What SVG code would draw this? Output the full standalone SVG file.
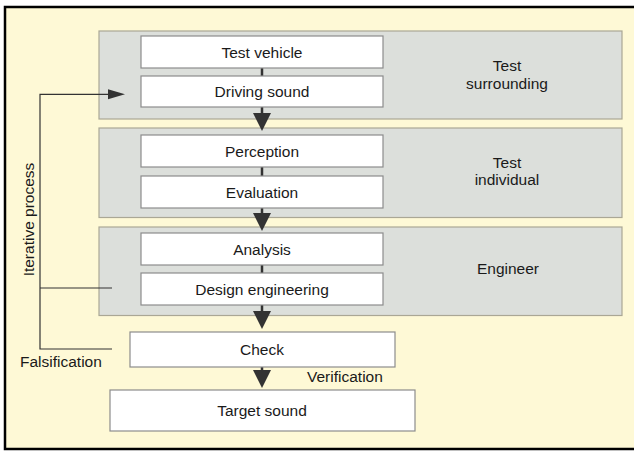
<svg xmlns="http://www.w3.org/2000/svg" width="634" height="458" viewBox="0 0 634 458">
<style>
text{font-family:"Liberation Sans",Arial,sans-serif;font-size:15.5px;fill:#1a1a1a}
.c{text-anchor:middle}
.panel{fill:#dcdfdb;stroke:#aaa795;stroke-width:1.2}
.box{fill:#fff;stroke:#8c8c8c;stroke-width:1.2}
.stem{stroke:#333;stroke-width:2.5;fill:none}
.fb{stroke:#333;stroke-width:1.2;fill:none}
.ah{fill:#333}
.frame{stroke:#000;stroke-width:2.5;fill:none}
</style>
<rect x="0" y="0" width="634" height="458" fill="#fff"/>
<rect x="5" y="7" width="629" height="442" fill="#fef9d6"/>
<path class="frame" d="M634 7H5V449H634"/>

<g id="panel-surrounding">
<rect class="panel" x="99" y="31" width="523" height="88"/>
<text class="c" x="507" y="71">Test</text>
<text class="c" x="507" y="89">surrounding</text>
</g>
<g id="panel-individual">
<rect class="panel" x="99" y="128" width="523" height="89.5"/>
<text class="c" x="507" y="168">Test</text>
<text class="c" x="507" y="185">individual</text>
</g>
<g id="panel-engineer">
<rect class="panel" x="99" y="227" width="523" height="88.5"/>
<text class="c" x="508" y="274">Engineer</text>
</g>

<g id="connectors">
<path class="stem" d="M262 68V76M262 167V176M262 265V273M262 107V114M262 208V214M262 305V312M262 367V371"/>
<polygon class="ah" points="253,113 271,113 262,131"/>
<polygon class="ah" points="253,213 271,213 262,231"/>
<polygon class="ah" points="253,311 271,311 262,329"/>
<polygon class="ah" points="253,370 271,370 262,388"/>
<path class="fb" d="M112 288H40M112 349H40V94.3H110"/>
<polygon class="ah" points="108,89.3 125,94.3 108,99.3"/>
</g>

<g id="node-test-vehicle">
<rect class="box" x="141" y="36" width="242" height="32"/>
<text class="c" x="262" y="57.5">Test vehicle</text>
</g>
<g id="node-driving-sound">
<rect class="box" x="141" y="76" width="242" height="31"/>
<text class="c" x="262" y="97">Driving sound</text>
</g>
<g id="node-perception">
<rect class="box" x="141" y="135" width="242" height="32"/>
<text class="c" x="262" y="156.5">Perception</text>
</g>
<g id="node-evaluation">
<rect class="box" x="141" y="176" width="242" height="32"/>
<text class="c" x="262" y="197.5">Evaluation</text>
</g>
<g id="node-analysis">
<rect class="box" x="141" y="233" width="242" height="32"/>
<text class="c" x="262" y="254.5">Analysis</text>
</g>
<g id="node-design-engineering">
<rect class="box" x="141" y="273" width="242" height="32"/>
<text class="c" x="262" y="294.5">Design engineering</text>
</g>
<g id="node-check">
<rect class="box" x="130" y="332" width="265" height="35"/>
<text class="c" x="262" y="355">Check</text>
</g>
<g id="node-target-sound">
<rect class="box" x="110" y="390" width="305" height="41"/>
<text class="c" x="262" y="416">Target sound</text>
</g>

<g id="labels">
<text class="c" transform="translate(33.5 219.5) rotate(-90)">Iterative process</text>
<text x="20" y="367">Falsification</text>
<text x="307" y="382">Verification</text>
</g>
</svg>
